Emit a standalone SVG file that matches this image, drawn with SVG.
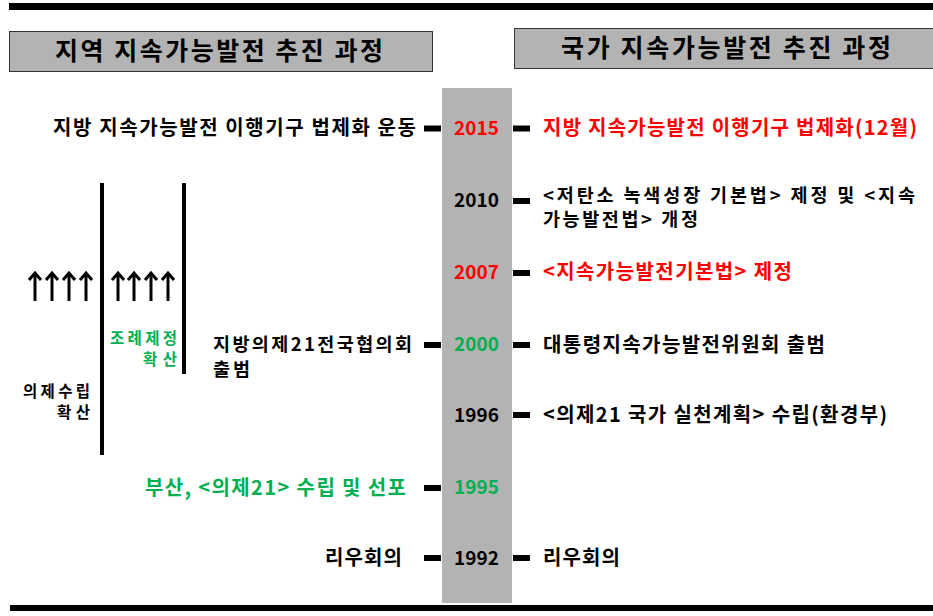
<svg xmlns="http://www.w3.org/2000/svg" width="933" height="616" viewBox="0 0 933 616">
<defs>
<style>
text{font-family:"Noto Sans CJK KR","Noto Sans",sans-serif;font-weight:bold;}
.t{font-size:20px;fill:#000;}
.t2{font-size:18.5px;fill:#000;}
.r{fill:#ff0000;}
.g{fill:#00b050;}
.k{fill:#000;}
.yr{font-size:19px;}
.hd{font-size:25px;fill:#000;}
.sm{font-size:15.5px;}
.box{fill:#b3b3b3;stroke:#333;stroke-width:1;}
.dash{fill:#000;}
.vl{stroke:#000;stroke-width:4;}
.ar{stroke:#000;stroke-width:3;fill:none;}
</style>
<g id="arrow">
<line class="ar" x1="0" y1="3" x2="0" y2="30"/>
<polyline class="ar" points="-6,9 0,2 6,9"/>
</g>
</defs>
<rect x="9" y="3" width="924" height="7" fill="#000"/>
<rect x="10" y="605" width="923" height="6" fill="#000"/>

<g id="head-left">
<rect class="box" x="9.5" y="31.5" width="423" height="40"/>
<text class="hd" x="55" y="60" textLength="328" lengthAdjust="spacing">지역 지속가능발전  추진 과정</text>
</g>
<g id="head-right">
<rect class="box" x="514.5" y="28.5" width="424" height="40"/>
<text class="hd" x="561" y="57" textLength="330" lengthAdjust="spacing">국가 지속가능발전  추진 과정</text>
</g>

<g id="timeline">
<rect x="442" y="88" width="70" height="515" fill="#b3b3b3"/>
<text class="yr r" x="454" y="135" textLength="45">2015</text>
<text class="yr k" x="454" y="207" textLength="45">2010</text>
<text class="yr r" x="454" y="279" textLength="45">2007</text>
<text class="yr g" x="454" y="351" textLength="45">2000</text>
<text class="yr k" x="454" y="422" textLength="45">1996</text>
<text class="yr g" x="454" y="494" textLength="45">1995</text>
<text class="yr k" x="454" y="565" textLength="45">1992</text>
</g>

<g id="connectors">
<rect class="dash" x="424" y="125.5" width="17" height="6"/>
<rect class="dash" x="513" y="125.5" width="17" height="6"/>
<rect class="dash" x="513" y="198" width="17" height="6"/>
<rect class="dash" x="513" y="270" width="17" height="6"/>
<rect class="dash" x="424" y="342" width="17" height="6"/>
<rect class="dash" x="513" y="342" width="17" height="6"/>
<rect class="dash" x="513" y="412" width="17" height="6"/>
<rect class="dash" x="424" y="485" width="17" height="6"/>
<rect class="dash" x="424" y="555" width="17" height="6"/>
<rect class="dash" x="513" y="555" width="17" height="6"/>
</g>

<g id="left-2015"><text class="t" x="53" y="135" textLength="363" lengthAdjust="spacing">지방 지속가능발전 이행기구 법제화 운동</text></g>
<g id="left-2000"><text class="t2" x="213" y="351"><tspan x="213" textLength="199" lengthAdjust="spacing">지방의제21전국협의회</tspan><tspan x="213" dy="25" textLength="37" lengthAdjust="spacing">출범</tspan></text></g>
<g id="left-1995"><text class="t g" x="145" y="495" textLength="261" lengthAdjust="spacing">부산, &lt;의제21&gt; 수립 및 선포</text></g>
<g id="left-1992"><text class="t" x="325" y="565" textLength="77" lengthAdjust="spacing">리우회의</text></g>

<g id="right-2015"><text class="t r" x="543" y="135" textLength="374" lengthAdjust="spacing">지방 지속가능발전 이행기구 법제화(12월)</text></g>
<g id="right-2010"><text class="t2" x="543" y="202"><tspan x="543" textLength="372" lengthAdjust="spacing">&lt;저탄소 녹색성장 기본법&gt; 제정 및 &lt;지속</tspan><tspan x="543" dy="24" textLength="155" lengthAdjust="spacing">가능발전법&gt; 개정</tspan></text></g>
<g id="right-2007"><text class="t r" x="543" y="279" textLength="249" lengthAdjust="spacing">&lt;지속가능발전기본법&gt; 제정</text></g>
<g id="right-2000"><text class="t" x="543" y="352" textLength="282" lengthAdjust="spacing">대통령지속가능발전위원회 출범</text></g>
<g id="right-1996"><text class="t" x="543" y="422" textLength="344" lengthAdjust="spacing">&lt;의제21 국가 실천계획&gt; 수립(환경부)</text></g>
<g id="right-1992"><text class="t" x="543" y="565" textLength="77" lengthAdjust="spacing">리우회의</text></g>

<g id="spread-agenda">
<line class="vl" x1="102" y1="183" x2="102" y2="455"/>
<use href="#arrow" x="35" y="271"/>
<use href="#arrow" x="52" y="271"/>
<use href="#arrow" x="69" y="271"/>
<use href="#arrow" x="86" y="271"/>
<text class="sm k" y="397"><tspan x="23" textLength="67" lengthAdjust="spacing">의제수립</tspan><tspan x="57" dy="21" textLength="33" lengthAdjust="spacing">확산</tspan></text>
</g>
<g id="spread-ordinance">
<line class="vl" x1="184" y1="183" x2="184" y2="374"/>
<use href="#arrow" x="118" y="271"/>
<use href="#arrow" x="134" y="271"/>
<use href="#arrow" x="151" y="271"/>
<use href="#arrow" x="168" y="271"/>
<text class="sm g" y="344"><tspan x="110" textLength="67" lengthAdjust="spacing">조례제정</tspan><tspan x="143" dy="21" textLength="34" lengthAdjust="spacing">확산</tspan></text>
</g>
</svg>
